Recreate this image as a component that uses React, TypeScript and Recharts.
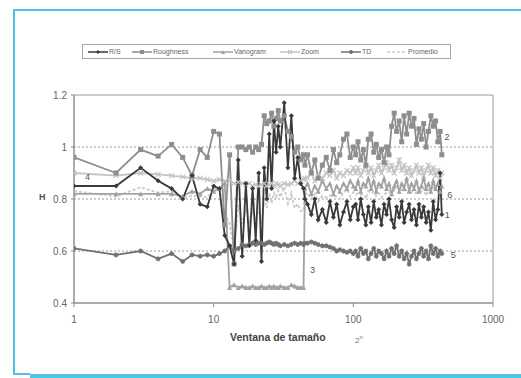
import { LineChart, Line, XAxis, YAxis, ReferenceLine, ReferenceArea, ReferenceDot } from 'recharts'

// Window sizes (log axis) and the H estimate of each method
const windowSizes = [
  1, 2, 3, 4, 5, 6, 7, 8, 9, 10, 11, 12,
  13, 14, 15, 16, 17, 18, 19, 20, 21, 22, 23, 24, 25, 26, 27, 28, 29, 30, 32, 34, 36, 38, 40, 42, 44, 45,
  47, 50, 53, 56, 60, 64, 68, 72, 76, 80, 85, 90, 95, 100,
  104, 108, 113, 118, 123, 128, 134, 140, 146, 152, 159, 166, 173, 180, 188, 196, 204, 213, 222, 231,
  241, 251, 261, 272, 283, 295, 307, 319, 332, 345, 359, 373, 388, 403, 418, 430,
]

const rsValues = [
  0.85, 0.85, 0.92, 0.87, 0.84, 0.8, 0.89, 0.78, 0.77, 0.85, 0.84, 0.66,
  0.62, 0.55, 0.95, 0.58, 0.86, 0.62, 0.84, 0.64, 0.9, 0.56, 0.92, 0.8, 1.05, 0.84, 1.1, 0.98, 1.08, 1.0, 1.17, 0.92, 1.12, 0.88, 0.96, 0.86, 0.84, 0.8,
  0.78, 0.74, 0.8, 0.72, 0.76, 0.71, 0.79, 0.73, 0.78, 0.7, 0.75, 0.79, 0.72, 0.77,
  0.78, 0.72, 0.8, 0.74, 0.7, 0.77, 0.71, 0.79, 0.73, 0.76, 0.7, 0.78, 0.74, 0.8, 0.72, 0.69, 0.77, 0.73, 0.79, 0.71,
  0.75, 0.78, 0.72, 0.76, 0.7, 0.78, 0.73, 0.77, 0.71, 0.75, 0.68, 0.79, 0.72, 0.76, 0.9, 0.74,
]

const roughnessValues = [
  0.96, 0.9, 0.99, 0.965, 1.01, 0.96, 0.89, 0.99, 0.96, 1.06, 1.05, 0.7,
  0.97, 0.55, 1.0, 1.0, 0.99, 1.0, 0.98, 1.0, 0.99, 1.01, 1.12, 1.09, 1.1, 1.13, 1.08, 1.11, 1.14, 1.1, 1.12, 1.06, 1.04, 0.98, 1.0, 0.95, 0.97, 0.93,
  0.97, 0.9, 0.95, 0.88, 0.93, 0.96, 0.91, 0.99, 0.94, 0.97, 1.03, 1.05, 0.96, 1.0,
  0.97, 1.02, 0.95, 0.99, 0.93, 1.03, 1.05, 0.98, 1.01, 0.96, 0.99, 0.94, 1.0, 0.97, 1.08, 1.13, 1.06, 1.1, 1.02, 1.12,
  1.05, 1.13, 1.08, 1.11, 1.01, 1.07, 1.03, 1.09, 1.0, 1.06, 1.12, 1.08, 1.1, 1.02, 1.06, 0.97,
]

const variogramValues = [
  0.82, 0.82, 0.82, 0.82, 0.82, 0.81, 0.83, 0.82, 0.84, 0.83, 0.84, 0.86,
  0.46, 0.47, 0.46, 0.465, 0.46, 0.46, 0.465, 0.46, 0.46, 0.465, 0.46, 0.46, 0.465, 0.46, 0.465, 0.46, 0.46, 0.465, 0.46, 0.46, 0.47, 0.465, 0.46, 0.46, 0.46, 0.84,
  0.86, 0.82, 0.85, 0.83, 0.87, 0.84, 0.86, 0.82, 0.85, 0.83, 0.86, 0.84, 0.87, 0.85,
  0.84, 0.87, 0.83, 0.86, 0.85, 0.88, 0.84, 0.87, 0.83, 0.86, 0.85, 0.88, 0.84, 0.86, 0.82, 0.85, 0.87, 0.83, 0.86, 0.84,
  0.88, 0.83, 0.86, 0.84, 0.87, 0.83, 0.85, 0.88, 0.84, 0.86, 0.83, 0.87, 0.84, 0.86, 0.83, 0.85,
]

const zoomValues = [
  0.9, 0.89, 0.9, 0.895, 0.89, 0.885, 0.88, 0.88, 0.875, 0.87, 0.875, 0.87,
  0.87, 0.86, 0.865, 0.86, 0.855, 0.86, 0.85, 0.855, 0.85, 0.855, 0.86, 0.85, 0.855, 0.86, 0.85, 0.86, 0.855, 0.85, 0.86, 0.855, 0.86, 0.87, 0.86, 0.87, 0.875, 0.88,
  0.88, 0.9, 0.87, 0.89, 0.88, 0.9, 0.89, 0.91, 0.88, 0.9, 0.89, 0.91, 0.9, 0.92,
  0.9, 0.92, 0.89, 0.91, 0.93, 0.9, 0.92, 0.89, 0.91, 0.93, 0.9, 0.92, 0.94, 0.91, 0.93, 0.9, 0.92, 0.95, 0.91, 0.93,
  0.9, 0.92, 0.89, 0.91, 0.93, 0.9, 0.92, 0.89, 0.91, 0.93, 0.9, 0.92, 0.89, 0.91, 0.88, 0.9,
]

const tdValues = [
  0.61, 0.585, 0.6, 0.57, 0.59, 0.56, 0.585, 0.58, 0.585, 0.58, 0.59, 0.6,
  0.62, 0.6, 0.61, 0.625, 0.62, 0.625, 0.63, 0.625, 0.63, 0.63, 0.625, 0.63, 0.635, 0.63, 0.625, 0.63, 0.625, 0.62, 0.625, 0.62, 0.625, 0.63, 0.625, 0.63, 0.625, 0.63,
  0.63, 0.635, 0.63, 0.625, 0.62, 0.62, 0.615, 0.61, 0.6, 0.605, 0.6, 0.595, 0.6, 0.59,
  0.6, 0.58, 0.61, 0.59, 0.6, 0.57, 0.59, 0.61, 0.58, 0.6, 0.59, 0.57, 0.6, 0.58, 0.61, 0.59, 0.62, 0.58, 0.6, 0.57,
  0.59, 0.55, 0.58, 0.6, 0.57, 0.59, 0.61, 0.58, 0.6, 0.57, 0.62, 0.59, 0.61, 0.58, 0.6, 0.59,
]

const promedioValues = [
  0.83, 0.81, 0.845, 0.824, 0.83, 0.803, 0.813, 0.81, 0.806, 0.838, 0.839, 0.738,
  0.708, 0.606, 0.777, 0.706, 0.757, 0.713, 0.753, 0.716, 0.766, 0.704, 0.797, 0.766, 0.821, 0.784, 0.824, 0.808, 0.832, 0.807, 0.847, 0.783, 0.823, 0.765, 0.781, 0.754, 0.754, 0.816,
  0.824, 0.8, 0.82, 0.79, 0.812, 0.806, 0.813, 0.812, 0.81, 0.8, 0.826, 0.837, 0.81, 0.826,
  0.818, 0.822, 0.816, 0.818, 0.802, 0.83, 0.822, 0.828, 0.812, 0.822, 0.806, 0.818, 0.824, 0.824, 0.832, 0.832, 0.848, 0.838, 0.836, 0.834,
  0.834, 0.842, 0.826, 0.844, 0.816, 0.834, 0.828, 0.842, 0.812, 0.834, 0.83, 0.85, 0.832, 0.826, 0.854, 0.81,
]

const xTicks = [1, 10, 100, 1000]
const yTicks = [0.4, 0.6, 0.8, 1, 1.2]
const gridValues = [0.6, 0.8, 1]

// series number tags drawn next to the curves: [window, H, tag]
const curveTags: [number, number, string][] = [
  [1.25, 0.886, '4'],
  [468, 1.04, '2'],
  [490, 0.818, '6'],
  [470, 0.74, '1'],
  [520, 0.585, '5'],
  [51, 0.527, '3'],
]

const rows = windowSizes.map((w, i) => ({
  w,
  rs: rsValues[i],
  roughness: roughnessValues[i],
  variogram: variogramValues[i],
  zoom: zoomValues[i],
  td: tdValues[i],
  promedio: promedioValues[i],
}))

type Shape = 'diamond' | 'square' | 'triangle' | 'cross' | 'star' | 'none'

function Marker({ shape, x, y, color, s }: { shape: Shape; x: number; y: number; color: string; s: number }) {
  switch (shape) {
    case 'diamond':
      return <path d={`M${x},${y - s}L${x + s},${y}L${x},${y + s}L${x - s},${y}Z`} fill={color} />
    case 'square':
      return <rect x={x - s} y={y - s} width={s * 2} height={s * 2} fill={color} />
    case 'triangle':
      return <path d={`M${x},${y - s}L${x + s},${y + s}L${x - s},${y + s}Z`} fill={color} />
    case 'cross':
      return (
        <path d={`M${x - s},${y - s}L${x + s},${y + s}M${x - s},${y + s}L${x + s},${y - s}`} stroke={color} strokeWidth={1.2} />
      )
    case 'star':
      return (
        <path
          d={`M${x - s},${y}L${x + s},${y}M${x},${y - s}L${x},${y + s}M${x - s * 0.7},${y - s * 0.7}L${x + s * 0.7},${y + s * 0.7}M${x - s * 0.7},${y + s * 0.7}L${x + s * 0.7},${y - s * 0.7}`}
          stroke={color}
          strokeWidth={1.2}
        />
      )
    default:
      return null
  }
}

function dotOf(shape: Shape, color: string, s = 2.5) {
  return (props: any) => {
    const { cx, cy, index } = props
    if (cx == null || cy == null || shape === 'none') return <g key={`d${index}`} />
    return (
      <g key={`d${index}`}>
        <Marker shape={shape} x={cx} y={cy} color={color} s={s} />
      </g>
    )
  }
}

const SERIES = [
  { key: 'promedio', name: 'Promedio', color: '#cdcdcd', shape: 'none' as Shape, width: 2, dash: '3 2' },
  { key: 'zoom', name: 'Zoom', color: '#c4c4c4', shape: 'cross' as Shape, width: 1.8, dash: undefined },
  { key: 'variogram', name: 'Variogram', color: '#a2a2a2', shape: 'triangle' as Shape, width: 1.8, dash: undefined },
  { key: 'td', name: 'TD', color: '#707070', shape: 'star' as Shape, width: 1.8, dash: undefined },
  { key: 'roughness', name: 'Roughness', color: '#8e8e8e', shape: 'square' as Shape, width: 1.8, dash: undefined },
  { key: 'rs', name: 'R/S', color: '#3a3a3a', shape: 'diamond' as Shape, width: 1.8, dash: undefined },
]

// legend entries with their left edge on the page
const LEGEND_ITEMS: [string, number][] = [
  ['rs', 88],
  ['roughness', 132],
  ['variogram', 213],
  ['zoom', 280],
  ['td', 341],
  ['promedio', 387],
]

const FONT = '"Liberation Sans", Arial, sans-serif'
const FRAME = '#4fc3ea'

function LegendBox() {
  return (
    <div
      style={{
        position: 'absolute',
        left: 82,
        top: 44,
        width: 367,
        height: 13,
        border: '1px solid #a8a8a8',
        background: '#fff',
      }}
    >
      {LEGEND_ITEMS.map(([key, left]) => {
        const s = SERIES.find(d => d.key === key)!
        return (
          <div
            key={key}
            style={{ position: 'absolute', left: left - 83, top: 0, height: 13, display: 'flex', alignItems: 'center' }}
          >
            <svg width={20} height={8} style={{ display: 'block' }}>
              <line x1={0} y1={4} x2={20} y2={4} stroke={s.color} strokeWidth={1.5} strokeDasharray={s.dash} />
              <Marker shape={s.shape} x={10} y={4} color={s.color} s={2} />
            </svg>
            <span style={{ fontSize: 7, color: '#666', marginLeft: 1, fontFamily: FONT }}>{s.name}</span>
          </div>
        )
      })}
    </div>
  )
}

export default function App() {
  return (
    <div style={{ position: 'absolute', left: 0, top: 0, width: 521, height: 378, background: '#fff', fontFamily: FONT }}>
      {/* page frame */}
      <div style={{ position: 'absolute', left: 13, top: 9, width: 2, height: 366, background: FRAME }} />
      <div style={{ position: 'absolute', left: 13, top: 9, width: 508, height: 2, background: FRAME }} />
      <div style={{ position: 'absolute', left: 13, top: 373, width: 17, height: 2, background: FRAME }} />
      <div style={{ position: 'absolute', left: 30, top: 374, width: 491, height: 4, background: FRAME }} />

      <LineChart
        width={521}
        height={378}
        data={rows}
        margin={{ top: 95, right: 28, bottom: 45, left: 0 }}
        style={{ position: 'absolute', left: 0, top: 0 }}
      >
        <XAxis
          type="number"
          dataKey="w"
          scale="log"
          domain={[1, 1000]}
          ticks={xTicks}
          allowDataOverflow
          height={30}
          tickSize={4}
          tickMargin={9}
          axisLine={{ stroke: '#8a8a8a' }}
          tickLine={{ stroke: '#8a8a8a' }}
          tick={{ fontSize: 10, fill: '#666', fontFamily: FONT }}
        />
        <YAxis
          type="number"
          domain={[0.4, 1.2]}
          ticks={yTicks}
          allowDataOverflow
          width={74}
          tickSize={3}
          tickMargin={4}
          axisLine={{ stroke: '#8a8a8a' }}
          tickLine={{ stroke: '#8a8a8a' }}
          tick={{ fontSize: 10, fill: '#666', fontFamily: FONT }}
          tickFormatter={(v: number) => String(v)}
        />
        {gridValues.map(v => (
          <ReferenceLine key={v} y={v} stroke="#9a9a9a" strokeDasharray="2 2" />
        ))}
        <ReferenceArea x1={1} x2={1000} y1={0.4} y2={1.2} fill="none" stroke="#9a9a9a" strokeWidth={1} />
        {SERIES.map(s => (
          <Line
            key={s.key}
            type="linear"
            dataKey={s.key}
            name={s.name}
            stroke={s.color}
            strokeWidth={s.width}
            strokeDasharray={s.dash}
            dot={dotOf(s.shape, s.color)}
            activeDot={false}
            isAnimationActive={false}
          />
        ))}
        {curveTags.map(([x, y, tag]) => (
          <ReferenceDot
            key={tag}
            x={x}
            y={y}
            r={0}
            stroke="none"
            fill="none"
            label={{ value: tag, position: 'center', fontSize: 9, fill: '#555', fontFamily: FONT }}
          />
        ))}
      </LineChart>

      <LegendBox />

      <div style={{ position: 'absolute', left: 39, top: 192, fontSize: 9, fontWeight: 'bold', color: '#555' }}>H</div>
      <div
        style={{
          position: 'absolute',
          left: 230,
          top: 331,
          fontSize: 10.5,
          fontWeight: 'bold',
          color: '#444',
          whiteSpace: 'nowrap',
        }}
      >
        Ventana de tamaño
      </div>
      <div style={{ position: 'absolute', left: 355, top: 334, fontSize: 8, color: '#777', whiteSpace: 'nowrap' }}>
        2<sup style={{ fontSize: 6 }}>n</sup>
      </div>
    </div>
  )
}
